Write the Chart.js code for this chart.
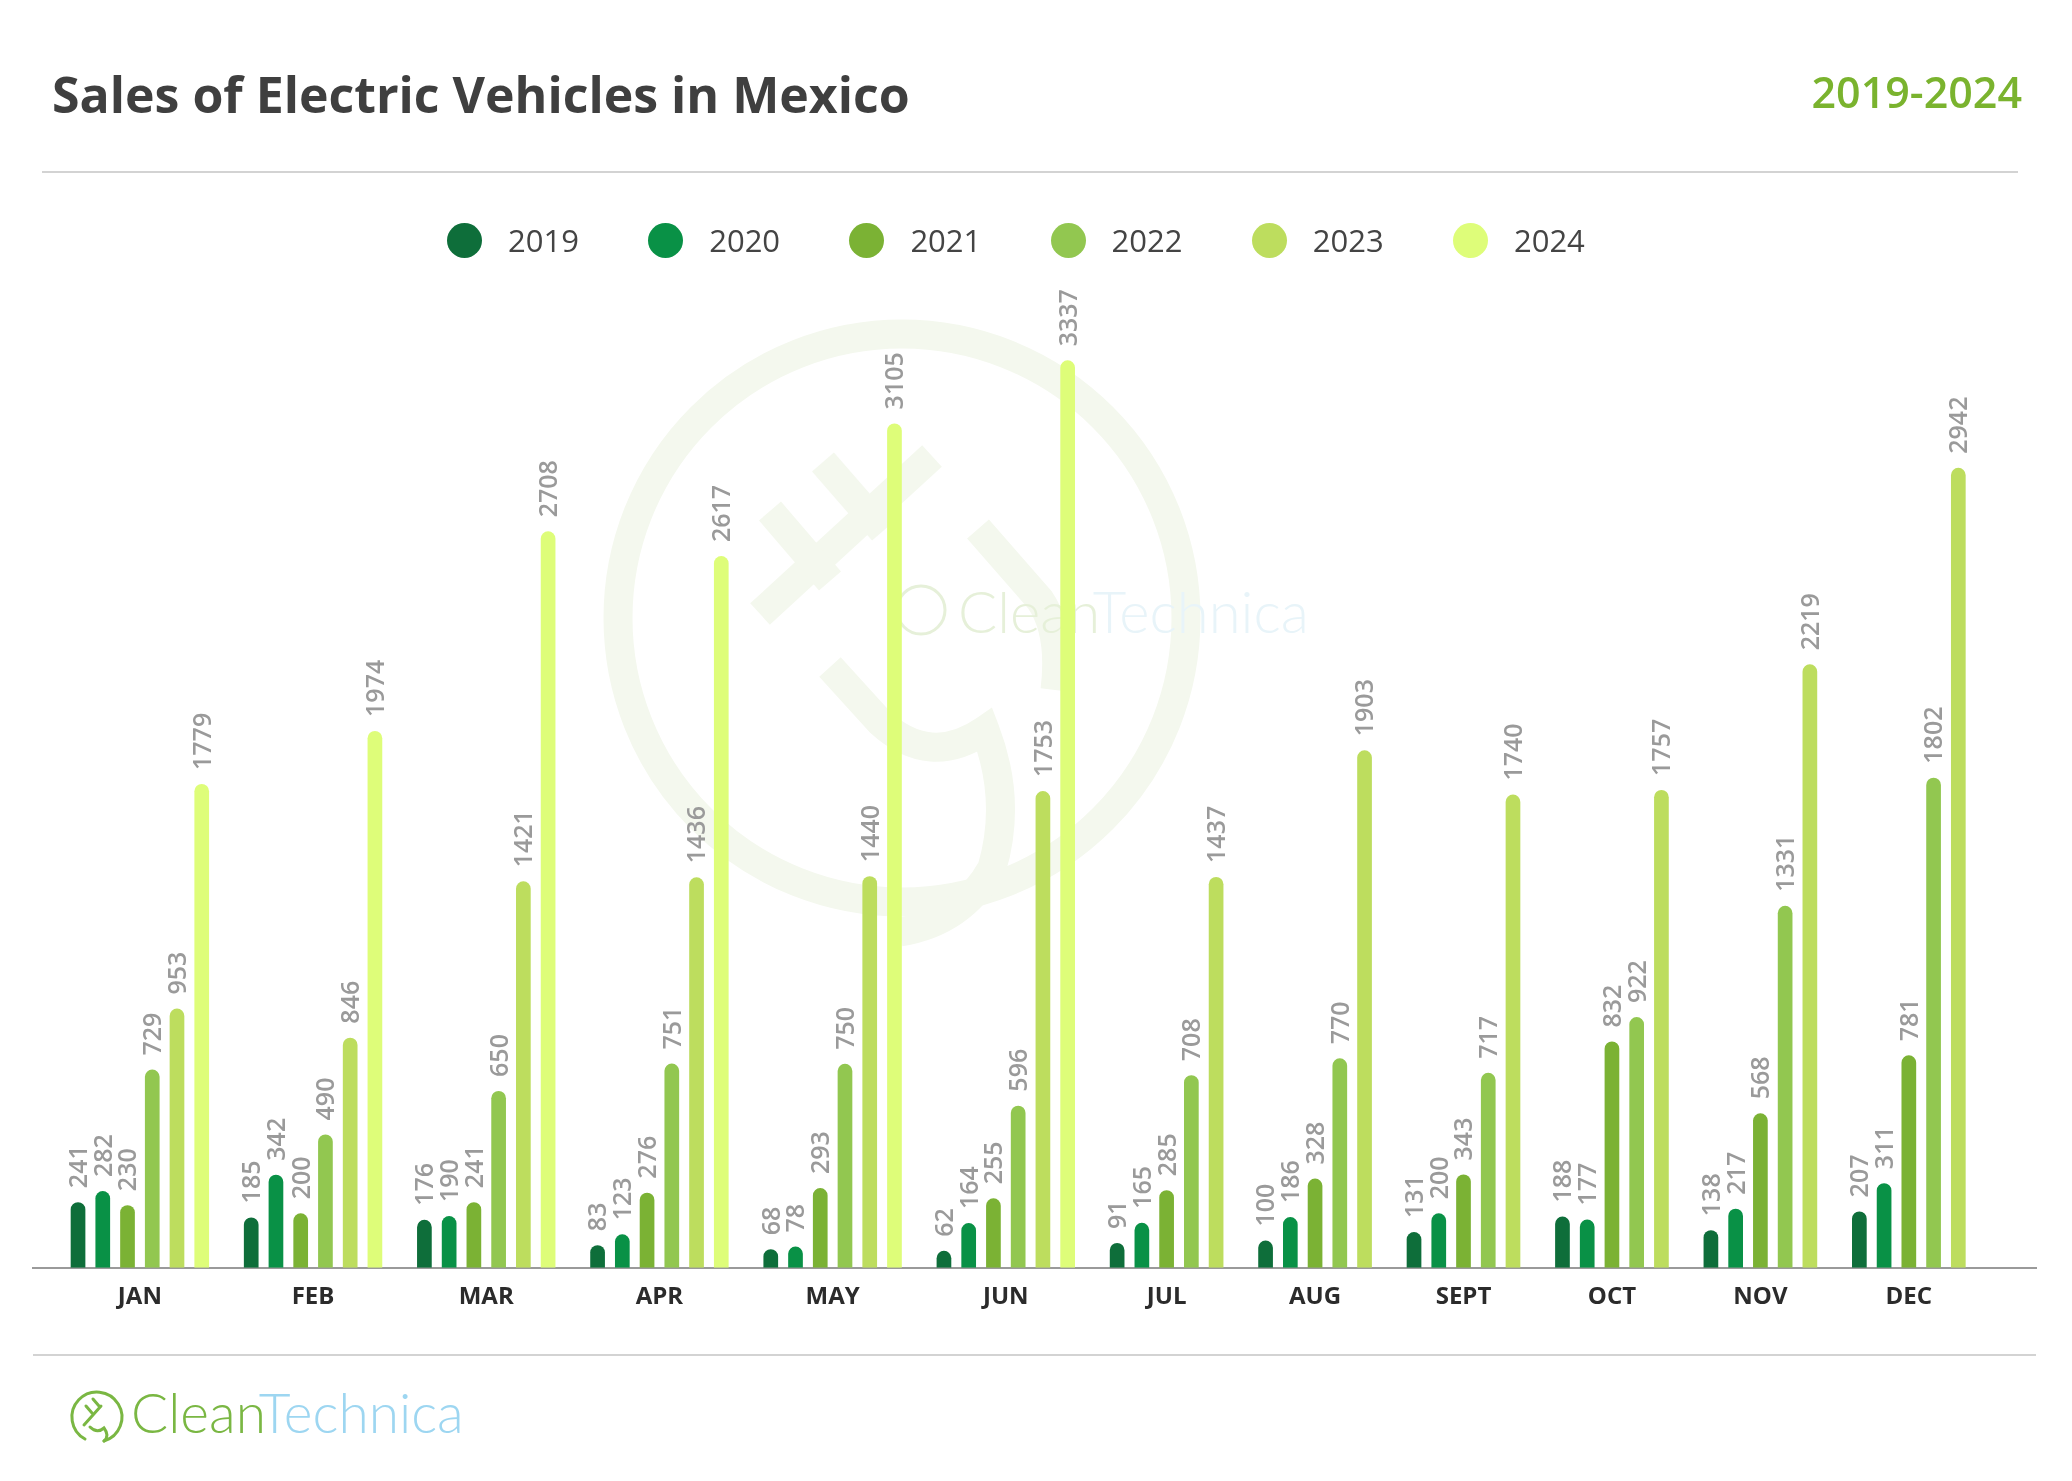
<!DOCTYPE html>
<html>
<head>
<meta charset="utf-8">
<script src="https://cdn.jsdelivr.net/npm/chart.js@4.4.1/dist/chart.umd.min.js"></script>
<style>
  html, body { margin: 0; padding: 0; background: #ffffff; }
  body { width: 2072px; height: 1481px; position: relative; overflow: hidden; font-family: "Open Sans", sans-serif; }
  #wm { position: absolute; left: 0; top: 0; }
  #c { position: absolute; left: 0; top: 0; }
  .title { position: absolute; left: 52px; top: 59px; font-size: 50px; font-weight: 700; color: #3f3f3f; line-height: 70px; white-space: nowrap; }
  .range { position: absolute; right: 50px; top: 62px; font-size: 43px; font-weight: 600; color: #7ab32e; line-height: 60px; white-space: nowrap; }
  .rule { position: absolute; height: 2px; background: #d3d3d3; }
  #legend { position: absolute; left: 447px; top: 218px; height: 45px; display: flex; }
  .li { width: 201.2px; display: flex; align-items: center; }
  .dot { width: 35px; height: 35px; border-radius: 50%; flex: none; }
  .lt { margin-left: 26px; font-size: 31px; color: #444; line-height: 45px; }
  .logo { position: absolute; left: 131px; top: 1380px; font-family: "Lato", sans-serif; font-weight: 300; font-size: 55px; line-height: 64px; white-space: nowrap; }
</style>
</head>
<body>
<svg id="wm" width="2072" height="1481" viewBox="0 0 2072 1481">
  <g fill="none" stroke="#f4f8ee" stroke-width="29">
    <circle cx="902" cy="618" r="284"/>
    <line x1="760" y1="614" x2="932" y2="456"/>
    <line x1="770" y1="511" x2="830" y2="581"/>
    <line x1="823" y1="462" x2="883" y2="531"/>
    <path d="M978,529 L1040,600 Q1062,632 1055,690"/>
    <path d="M830,667 L880,722 Q930,768 985,730 Q1012,800 992,868 Q962,922 900,932"/>
  </g>
  <circle cx="921" cy="610" r="24" fill="none" stroke="#e6f0d9" stroke-width="3"/>
  <text x="958" y="633" font-family="Lato" font-weight="300" font-size="58"><tspan fill="#e6f0d9">Clean</tspan><tspan fill="#e8f4f9">Technica</tspan></text>
  <g fill="none" stroke="#7ab743" stroke-width="3" stroke-linecap="round">
    <path d="M104,1441 A25,25 0 1 0 85,1439"/>
    <line x1="84" y1="1425" x2="101" y2="1406"/>
    <line x1="86" y1="1406" x2="92" y2="1413"/>
    <line x1="93" y1="1399" x2="99" y2="1406"/>
    <path d="M90,1427 Q97,1434 104,1428 Q110,1436 104,1441"/>
  </g>
</svg>
<canvas id="c" width="2072" height="1481"></canvas>
<div class="title">Sales of Electric Vehicles in Mexico</div>
<div class="range">2019-2024</div>
<div class="rule" style="left:42px; width:1976px; top:171px;"></div>
<div class="rule" style="left:33px; width:2003px; top:1354px;"></div>
<div id="legend"></div>
<div class="logo"><span style="color:#7ab743">Clean</span><span style="color:#9dd6f1">Technica</span></div>
<script>
// ---- data ----
const months = ['JAN','FEB','MAR','APR','MAY','JUN','JUL','AUG','SEPT','OCT','NOV','DEC'];
const years = ['2019','2020','2021','2022','2023','2024'];
const sales2019 = [241, 185, 176, 83, 68, 62, 91, 100, 131, 188, 138, 207];
const sales2020 = [282, 342, 190, 123, 78, 164, 165, 186, 200, 177, 217, 311];
const sales2021 = [230, 200, 241, 276, 293, 255, 285, 328, 343, 832, 568, 781];
const sales2022 = [729, 490, 650, 751, 750, 596, 708, 770, 717, 922, 1331, 1802];
const sales2023 = [953, 846, 1421, 1436, 1440, 1753, 1437, 1903, 1740, 1757, 2219, 2942];
const sales2024 = [1779, 1974, 2708, 2617, 3105, 3337, null, null, null, null, null, null];

// ---- styles ----
const yearColors = ['#0e6e3a', '#099146', '#7bb234', '#92c750', '#bddd5e', '#defd79'];

const series = [sales2019, sales2020, sales2021, sales2022, sales2023, sales2024];

// each bar takes one slot, one empty slot between months
let slot = 0;
const groupCenters = [];
const points = series.map(() => []);
months.forEach((m, i) => {
  const start = slot;
  series.forEach((s, k) => {
    if (s[i] !== null && s[i] !== undefined) { points[k].push({ x: slot, y: s[i] }); slot++; }
  });
  groupCenters.push(start + (slot - start - 1) / 2);
  slot++;
});

// legend (HTML)
const lg = document.getElementById('legend');
years.forEach((y, k) => {
  const it = document.createElement('div'); it.className = 'li';
  const d = document.createElement('div'); d.className = 'dot'; d.style.background = yearColors[k];
  const t = document.createElement('div'); t.className = 'lt'; t.textContent = y;
  it.appendChild(d); it.appendChild(t); lg.appendChild(it);
});

const valueLabels = {
  id: 'valueLabels',
  afterDatasetsDraw(chart) {
    const ctx = chart.ctx;
    ctx.save();
    ctx.font = '600 25px "Open Sans"';
    ctx.fillStyle = '#9a9a9a';
    ctx.textAlign = 'left';
    ctx.textBaseline = 'alphabetic';
    chart.data.datasets.forEach((ds, k) => {
      const meta = chart.getDatasetMeta(k);
      meta.data.forEach((bar, j) => {
        const v = ds.data[j].y;
        ctx.save();
        ctx.translate(bar.x, bar.y - 14);
        ctx.rotate(-Math.PI / 2);
        ctx.fillText(String(v), 0, 8.9);
        ctx.restore();
      });
    });
    ctx.restore();
  }
};

function draw() {
  new Chart(document.getElementById('c'), {
    type: 'bar',
    data: {
      datasets: years.map((y, k) => ({
        label: y,
        data: points[k],
        backgroundColor: yearColors[k],
        grouped: false,
        categoryPercentage: 1,
        barPercentage: 0.594,
        borderRadius: 8,
        borderSkipped: 'start'
      }))
    },
    options: {
      responsive: false,
      animation: false,
      devicePixelRatio: 1,
      layout: { padding: { left: 33, right: 36, top: 316, bottom: 154.5 } },
      plugins: { legend: { display: false }, tooltip: { enabled: false } },
      scales: {
        x: {
          type: 'linear',
          offset: false,
          min: -1.82,
          max: 79.14,
          afterBuildTicks: (scale) => { scale.ticks = groupCenters.map(v => ({ value: v })); },
          grid: { display: false, drawTicks: false },
          border: { display: true, color: '#9a9a9a', width: 2 },
          ticks: {
            autoSkip: false, maxRotation: 0, minRotation: 0, padding: 15,
            color: '#2b2b2b',
            font: { family: '"Open Sans"', size: 24, weight: 'bold' },
            callback: (v, i) => months[i]
          }
        },
        y: { display: false, min: 0, max: 3500 }
      }
    },
    plugins: [valueLabels]
  });
}
if (document.fonts && document.fonts.ready) { document.fonts.ready.then(draw); } else { draw(); }
</script>
</body>
</html>
